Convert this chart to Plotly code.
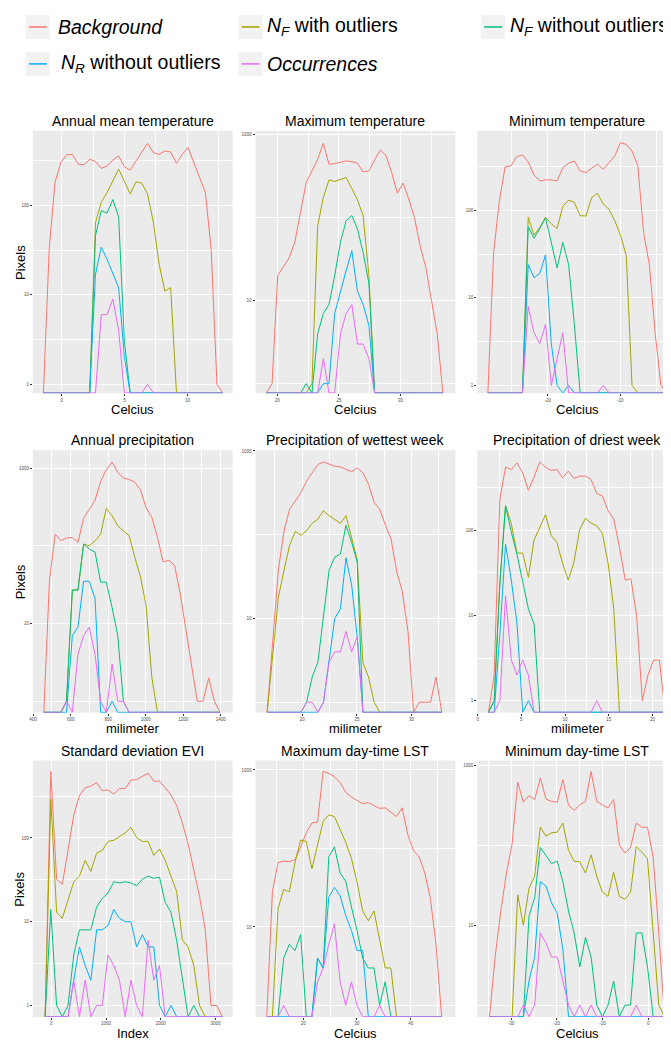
import plotly.graph_objects as go
from plotly.subplots import make_subplots

# ---------------- data ----------------
series_names = ["Background", "NF with outliers", "NF without outliers",
                "NR without outliers", "Occurrences"]
series_colors = ["#F8766D", "#A3A500", "#00BF7D", "#00B0F6", "#E76BF3"]

panel_titles = ["Annual mean temperature", "Maximum temperature", "Minimum temperature",
                "Annual precipitation", "Precipitation of wettest week",
                "Precipitation of driest week", "Standard deviation EVI",
                "Maximum day-time LST", "Minimum day-time LST"]
x_titles = ["Celcius", "Celcius", "Celcius", "milimeter", "milimeter", "milimeter",
            "Index", "Celcius", "Celcius"]
y_title = "Pixels"

# 1 Annual mean temperature
amt_x = [-1.45, -0.99, -0.53, -0.07, 0.39, 0.85, 1.31, 1.77, 2.23, 2.69, 3.15, 3.61, 4.07, 4.53, 4.99, 5.45,
         5.91, 6.37, 6.83, 7.29, 7.75, 8.21, 8.67, 9.13, 9.59, 10.05, 10.51, 10.97, 11.43, 11.89, 12.35, 12.81]
amt_bg = [0, 33, 180, 300, 366, 371, 288, 283, 327, 308, 258, 276, 321, 356, 269, 247,
          313, 394, 493, 388, 371, 405, 394, 295, 371, 441, 300, 205, 139, 32, 1, 0]
amt_nfo = [0, 0, 0, 0, 0, 0, 0, 0, 0, 64, 108, 139, 188, 254, 185, 134,
           183, 177, 134, 65, 22, 11, 12, 0, 0, 0, 0, 0, 0, 0, 0, 0]
amt_nf = [0, 0, 0, 0, 0, 0, 0, 0, 0, 46, 87, 82, 116, 74, 3, 0,
          0, 0, 0, 0, 0, 0, 0, 0, 0, 0, 0, 0, 0, 0, 0, 0]
amt_nr = [0, 0, 0, 0, 0, 0, 0, 0, 0, 17, 34, 25, 17, 12, 2, 0,
          0, 0, 0, 0, 0, 0, 0, 0, 0, 0, 0, 0, 0, 0, 0, 0]
amt_occ = [0, 0, 0, 0, 0, 0, 0, 0, 0, 0, 6, 6, 9, 4, 0, 0,
           0, 0, 1, 0, 0, 0, 0, 0, 0, 0, 0, 0, 0, 0, 0, 0]

# 2 Maximum temperature
mxt_x = [19.11, 19.57, 20.03, 20.50, 20.96, 21.42, 21.88, 22.34, 22.81, 23.27, 23.73, 24.19, 24.65, 25.12, 25.58, 26.04,
         26.50, 26.96, 27.43, 27.89, 28.35, 28.81, 29.27, 29.74, 30.20, 30.66, 31.12, 31.58, 32.05, 32.51, 32.97, 33.43]
mxt_bg = [0, 1, 20, 26, 33, 51, 116, 265, 366, 506, 787, 441, 449, 461, 483, 474,
          453, 356, 366, 497, 655, 565, 350, 198, 261, 168, 101, 46, 25, 10, 4, 0]
mxt_nfo = [0, 0, 0, 0, 0, 0, 0, 0, 1, 80, 175, 286, 273, 286, 305, 225,
           164, 106, 20, 0, 0, 0, 0, 0, 0, 0, 0, 0, 0, 0, 0, 0]
mxt_nf = [0, 0, 0, 0, 0, 0, 0, 1, 0, 4, 7, 9, 20, 51, 92, 106,
          73, 38, 16, 0, 0, 0, 0, 0, 0, 0, 0, 0, 0, 0, 0, 0]
mxt_nr = [0, 0, 0, 0, 0, 0, 0, 0, 0, 0, 1, 1, 7, 13, 23, 40,
          13, 9, 5, 0, 0, 0, 0, 0, 0, 0, 0, 0, 0, 0, 0, 0]
mxt_occ = [0, 0, 0, 0, 0, 0, 0, 0, 0, 0, 2, 0, 0, 4, 7, 9,
           3, 3, 2, 0, 0, 0, 0, 0, 0, 0, 0, 0, 0, 0, 0, 0]

# 3 Minimum temperature
mnt_x = [-28.26, -27.47, -26.67, -25.88, -25.08, -24.29, -23.49, -22.70, -21.90, -21.11, -20.31, -19.52, -18.72,
         -17.93, -17.13, -16.34, -15.54, -14.75, -13.95, -13.16, -12.36, -11.57, -10.77, -9.98, -9.18, -8.39,
         -7.59, -6.80, -6.00, -5.21, -4.41, -3.62]
mnt_bg = [0, 33, 129, 314, 322, 411, 430, 357, 252, 217, 223, 223, 217, 308, 345, 366,
          282, 270, 303, 336, 295, 351, 418, 593, 567, 476, 322, 56, 24, 4, 1, 0]
mnt_nfo = [0, 0, 0, 0, 0, 0, 0, 83, 52, 64, 83, 70, 62, 111, 131, 123,
           87, 86, 140, 157, 118, 103, 76, 52, 30, 1, 0, 0, 0, 0, 0, 0]
mnt_nf = [0, 0, 0, 0, 0, 0, 0, 65, 48, 62, 82, 43, 22, 43, 24, 5,
          0, 0, 0, 0, 0, 0, 0, 0, 0, 0, 0, 0, 0, 0, 0, 0]
mnt_nr = [0, 0, 0, 0, 0, 0, 0, 24, 17, 19, 31, 3, 1, 0, 1, 0,
          0, 0, 0, 0, 0, 0, 0, 0, 0, 0, 0, 0, 0, 0, 0, 0]
mnt_occ = [0, 0, 0, 0, 0, 0, 0, 8, 4, 3, 5, 1, 2, 4, 0, 0,
           0, 0, 0, 0, 1, 0, 0, 0, 0, 0, 0, 0, 0, 0, 0, 0]

# 4 Annual precipitation
ap_x = [457, 487, 518, 548, 578, 609, 639, 669, 699, 730, 760, 790, 821, 851, 881, 912,
        942, 972, 1002, 1033, 1063, 1093, 1124, 1154, 1184, 1215, 1245, 1275, 1305, 1336, 1366, 1396]
ap_bg = [0, 36, 141, 116, 126, 128, 111, 226, 294, 383, 677, 952, 1192, 881, 746, 710,
         657, 529, 309, 231, 128, 62, 65, 56, 24, 8, 3, 1, 1, 2, 1, 0]
ap_nfo = [0, 0, 0, 0, 1, 27, 27, 105, 100, 116, 141, 303, 243, 181, 156, 135,
          71, 40, 17, 2, 0, 0, 0, 0, 0, 0, 0, 0, 0, 0, 0, 0]
ap_nf = [0, 0, 0, 0, 1, 27, 27, 105, 91, 83, 34, 34, 16, 7, 1, 0,
         0, 0, 0, 0, 0, 0, 0, 0, 0, 0, 0, 0, 0, 0, 0, 0]
ap_nr = [0, 0, 0, 0, 0, 7, 9, 35, 35, 21, 0, 0, 1, 0, 0, 0,
         0, 0, 0, 0, 0, 0, 0, 0, 0, 0, 0, 0, 0, 0, 0, 0]
ap_occ = [0, 0, 0, 0, 1, 0, 4, 7, 9, 4, 1, 0, 3, 1, 1, 0,
          0, 0, 0, 0, 0, 0, 0, 0, 0, 0, 0, 0, 0, 0, 0, 0]

# 5 Precipitation of wettest week
pww_x = [16.79, 17.31, 17.82, 18.34, 18.85, 19.37, 19.88, 20.40, 20.91, 21.43, 21.94, 22.46, 22.97, 23.49, 24.00, 24.52,
         25.03, 25.55, 26.06, 26.58, 27.09, 27.61, 28.12, 28.64, 29.15, 29.67, 30.18, 30.70, 31.21, 31.73, 32.24, 32.76]
pww_bg = [0, 6, 38, 112, 202, 254, 319, 438, 549, 689, 741, 701, 658, 646, 601, 564,
          629, 549, 400, 243, 202, 129, 89, 36, 21, 7, 0, 1, 1, 1, 2, 0]
pww_nfo = [0, 4, 18, 38, 75, 110, 98, 112, 137, 154, 193, 169, 154, 137, 169, 93,
           50, 3, 2, 1, 0, 0, 0, 0, 0, 0, 0, 0, 0, 0, 0, 0]
pww_nf = [0, 0, 0, 0, 0, 0, 0, 1, 2, 3, 10, 38, 54, 59, 129, 81,
          47, 0, 0, 0, 0, 0, 0, 0, 0, 0, 0, 0, 0, 0, 0, 0]
pww_nr = [0, 0, 0, 0, 0, 0, 0, 0, 0, 0, 1, 3, 10, 13, 53, 25,
          6, 0, 0, 0, 0, 0, 0, 0, 0, 0, 0, 0, 0, 0, 0, 0]
pww_occ = [0, 0, 0, 0, 0, 0, 0, 1, 1, 0, 1, 3, 4, 4, 7, 4,
           6, 0, 0, 0, 0, 0, 0, 0, 0, 0, 0, 0, 0, 0, 0, 0]

# 6 Precipitation of driest week
pdw_x = [1.24, 1.89, 2.54, 3.19, 3.85, 4.50, 5.15, 5.80, 6.45, 7.10, 7.76, 8.41, 9.06, 9.71, 10.36, 11.01,
         11.66, 12.32, 12.97, 13.62, 14.27, 14.92, 15.57, 16.22, 16.88, 17.53, 18.18, 18.83, 19.48, 20.13, 20.79, 21.44]
pdw_bg = [0, 2, 231, 550, 516, 617, 472, 294, 421, 634, 550, 503, 516, 413, 494, 405,
          432, 432, 395, 269, 253, 169, 135, 63, 26, 27, 10, 1, 2, 3, 3, 0]
pdw_nfo = [0, 1, 24, 194, 119, 54, 54, 28, 77, 110, 152, 87, 72, 41, 26, 42,
           101, 138, 121, 113, 91, 41, 12, 0, 0, 0, 0, 0, 0, 0, 0, 0]
pdw_nf = [0, 1, 24, 194, 95, 52, 25, 12, 8, 0, 0, 0, 0, 0, 0, 0,
          0, 0, 0, 0, 0, 0, 0, 0, 0, 0, 0, 0, 0, 0, 0, 0]
pdw_nr = [0, 0, 6, 69, 26, 8, 0, 1, 0, 0, 0, 0, 0, 0, 0, 0,
          0, 0, 0, 0, 0, 0, 0, 0, 0, 0, 0, 0, 0, 0, 0, 0]
pdw_occ = [0, 0, 1, 17, 3, 2, 3, 2, 0, 0, 0, 0, 0, 0, 0, 0,
           0, 0, 0, 1, 0, 0, 0, 0, 0, 0, 0, 0, 0, 0, 0, 0]

# 7 Standard deviation EVI
evi_x = [-112, -8, 97, 201, 306, 410, 514, 619, 723, 828, 932, 1036, 1141, 1245, 1350, 1454,
         1558, 1663, 1767, 1872, 1976, 2080, 2185, 2289, 2394, 2498, 2602, 2707, 2811, 2916, 3020, 3124]
evi_bg = [0, 622, 32, 28, 71, 188, 320, 399, 418, 457, 366, 376, 334, 389, 389, 490,
          498, 544, 595, 477, 477, 399, 326, 245, 150, 85, 41, 20, 8, 1, 1, 0]
evi_nfo = [0, 292, 13, 11, 18, 30, 35, 54, 40, 66, 71, 91, 94, 103, 115, 134,
           101, 91, 91, 62, 74, 54, 35, 23, 6, 5, 3, 1, 0, 0, 0, 0]
evi_nf = [0, 14, 1, 0, 1, 4, 8, 8, 8, 15, 19, 22, 30, 29, 30, 29,
          27, 32, 35, 33, 34, 17, 13, 6, 2, 0, 1, 0, 0, 0, 0, 0]
evi_nr = [0, 0, 0, 0, 0, 2, 5, 3, 2, 8, 8, 9, 14, 11, 10, 10,
          5, 7, 5, 5, 1, 0, 1, 0, 0, 0, 0, 0, 0, 0, 0, 0]
evi_occ = [0, 0, 0, 0, 0, 2, 0, 2, 0, 1, 1, 4, 3, 2, 0, 2,
           1, 0, 6, 2, 3, 0, 0, 0, 0, 0, 0, 0, 0, 0, 0, 0]

# 8 Maximum day-time LST
mxl_x = [13.20, 14.25, 15.30, 16.35, 17.40, 18.46, 19.51, 20.56, 21.61, 22.66, 23.71, 24.76, 25.81, 26.86, 27.91, 28.97,
         30.02, 31.07, 32.12, 33.17, 34.22, 35.27, 36.32, 37.37, 38.42, 39.48, 40.53, 41.58, 42.63, 43.68, 44.73, 45.78]
mxl_bg = [0, 28, 66, 69, 68, 72, 104, 159, 211, 217, 964, 902, 820, 692, 520, 451,
          410, 373, 384, 356, 324, 330, 289, 255, 330, 149, 94, 78, 49, 23, 6, 0]
mxl_nfo = [0, 0, 17, 30, 28, 66, 128, 123, 55, 114, 222, 268, 255, 175, 120, 75,
           37, 16, 12, 16, 7, 3, 3, 0, 0, 0, 0, 0, 0, 0, 0, 0]
mxl_nf = [0, 0, 0, 4, 6, 5, 8, 0, 0, 4, 3, 78, 105, 49, 38, 18,
          9, 4, 3, 3, 1, 2, 0, 0, 0, 0, 0, 0, 0, 0, 0, 0]
mxl_nr = [0, 0, 0, 0, 0, 0, 0, 0, 0, 4, 3, 24, 32, 25, 14, 9,
          5, 5, 0, 0, 0, 0, 0, 0, 0, 0, 0, 0, 0, 0, 0, 0]
mxl_occ = [0, 0, 0, 1, 0, 0, 0, 0, 0, 2, 3, 6, 11, 2, 1, 2,
           1, 0, 0, 0, 1, 0, 0, 0, 0, 0, 0, 0, 0, 0, 0, 0]

# 9 Minimum day-time LST
mnl_x = [-34.70, -33.47, -32.23, -31.00, -29.76, -28.53, -27.30, -26.06, -24.83, -23.59, -22.36, -21.13, -19.89,
         -18.66, -17.42, -16.19, -14.96, -13.72, -12.49, -11.25, -10.02, -8.79, -7.55, -6.32, -5.08, -3.85,
         -2.62, -1.38, -0.15, 1.09, 2.32, 3.55]
mnl_bg = [0, 4, 15, 45, 104, 617, 346, 417, 373, 695, 380, 353, 346, 664, 316, 274,
          321, 353, 838, 353, 321, 293, 373, 101, 80, 94, 189, 168, 168, 71, 8, 0]
mnl_nfo = [0, 0, 0, 0, 0, 24, 10, 29, 41, 168, 130, 143, 146, 189, 86, 63,
           62, 45, 76, 41, 26, 23, 46, 23, 21, 26, 96, 82, 68, 8, 1, 0]
mnl_nf = [0, 0, 0, 0, 0, 0, 0, 13, 22, 94, 75, 59, 63, 35, 15, 8,
          3, 7, 4, 1, 0, 1, 2, 0, 1, 1, 8, 8, 3, 0, 0, 0]
mnl_nr = [0, 0, 0, 0, 0, 0, 0, 2, 4, 35, 31, 19, 14, 5, 0, 0,
          0, 0, 0, 0, 0, 0, 0, 0, 0, 0, 0, 0, 0, 0, 0, 0]
mnl_occ = [0, 0, 0, 0, 0, 0, 1, 0, 1, 8, 6, 4, 4, 2, 1, 0,
           1, 0, 1, 0, 0, 0, 0, 0, 0, 0, 1, 0, 0, 0, 0, 0]

# ---------------- panel configuration (axes) ----------------
panels = [
    dict(x=amt_x, s=[amt_bg, amt_nfo, amt_nf, amt_nr, amt_occ], xr=[-2.29, 13.60], xt=[0, 5, 10], xm=[2.5, 7.5, 12.5],
         yr=[-0.10, 2.833], yt=[1, 10, 100], ym=[3.162, 31.62, 316.2]),
    dict(x=mxt_x, s=[mxt_bg, mxt_nfo, mxt_nf, mxt_nr, mxt_occ], xr=[18.23, 34.44], xt=[20, 25, 30], xm=[22.5, 27.5, 32.5],
         yr=[-0.116, 3.048], yt=[10, 1000], ym=[1, 100]),
    dict(x=mnt_x, s=[mnt_bg, mnt_nfo, mnt_nf, mnt_nr, mnt_occ], xr=[-29.73, -2.19], xt=[-20, -10], xm=[-25, -15, -5],
         yr=[-0.09, 2.909], yt=[1, 10, 100], ym=[3.162, 31.62, 316.2]),
    dict(x=ap_x, s=[ap_bg, ap_nfo, ap_nf, ap_nr, ap_occ], xr=[398.7, 1463.6], xt=[400, 600, 800, 1000, 1200, 1400],
         xm=[500, 700, 900, 1100, 1300], yr=[-0.146, 3.23], yt=[10, 1000], ym=[1, 100]),
    dict(x=pww_x, s=[pww_bg, pww_nfo, pww_nf, pww_nr, pww_occ], xr=[15.73, 34.0], xt=[20, 25, 30],
         xm=[17.5, 22.5, 27.5, 32.5], yr=[-0.124, 3.01], yt=[10, 1000], ym=[1, 100]),
    dict(x=pdw_x, s=[pdw_bg, pdw_nfo, pdw_nf, pdw_nr, pdw_occ], xr=[-0.05, 22.8], xt=[0, 5, 10, 15, 20],
         xm=[2.5, 7.5, 12.5, 17.5, 22.5], yr=[-0.14, 2.94], yt=[1, 10, 100], ym=[3.162, 31.62, 316.2]),
    dict(x=evi_x, s=[evi_bg, evi_nfo, evi_nf, evi_nr, evi_occ], xr=[-335.8, 3312], xt=[0, 1000, 2000, 3000],
         xm=[500, 1500, 2500], yr=[-0.139, 2.925], yt=[1, 10, 100], ym=[3.162, 31.62, 316.2]),
    dict(x=mxl_x, s=[mxl_bg, mxl_nfo, mxl_nf, mxl_nr, mxl_occ], xr=[11.11, 48.33], xt=[20, 30, 40],
         xm=[15, 25, 35, 45], yr=[-0.148, 3.12], yt=[10, 1000], ym=[1, 100]),
    dict(x=mnl_x, s=[mnl_bg, mnl_nfo, mnl_nf, mnl_nr, mnl_occ], xr=[-37.39, 6.30], xt=[-30, -20, -10, 0],
         xm=[-35, -25, -15, -5, 5], yr=[-0.15, 3.06], yt=[10, 1000], ym=[1, 100]),
]

W, H = 671, 1042
col_px = [(21, 222), (245, 446), (468, 669)]
row_px = [(121, 384), (441, 704), (752, 1009)]
title_y = [111, 431, 742]
xtitle_y = [400, 720, 1025]

FONT = "Liberation Sans, Arial, Helvetica, sans-serif"

fig = make_subplots(rows=3, cols=3)

for i, p in enumerate(panels):
    r, c = i // 3, i % 3
    floor = 10 ** (p["yr"][0] + 0.004)
    for name, color, ys in zip(series_names, series_colors, p["s"]):
        fig.add_trace(go.Scatter(
            x=p["x"], y=[v if v > 0 else floor for v in ys], mode="lines",
            line=dict(color=color, width=1), name=name, showlegend=False,
            hoverinfo="skip"), row=r + 1, col=c + 1)
    (l, rr), (t, b) = col_px[c], row_px[r]
    fig.update_xaxes(
        domain=[l / W, rr / W], range=p["xr"], tickmode="array", tickvals=p["xt"],
        ticktext=[str(v) for v in p["xt"]], showgrid=True, gridcolor="white", gridwidth=1,
        zeroline=False, showline=False, ticks="outside", ticklen=2, tickwidth=0.6,
        tickcolor="#333333", tickfont=dict(size=4.5, color="#4D4D4D", family=FONT),
        minor=dict(tickmode="array", tickvals=p["xm"], showgrid=True, gridcolor="white",
                   gridwidth=0.5, ticks=""),
        row=r + 1, col=c + 1)
    fig.update_yaxes(
        type="log", domain=[1 - b / H, 1 - t / H], range=p["yr"], tickmode="array",
        tickvals=p["yt"], ticktext=[str(v) for v in p["yt"]], showgrid=True, gridcolor="white",
        gridwidth=1, zeroline=False, showline=False, ticks="outside", ticklen=2, tickwidth=0.6,
        tickcolor="#333333", tickfont=dict(size=4.5, color="#4D4D4D", family=FONT),
        minor=dict(tickmode="array", tickvals=p["ym"], showgrid=True, gridcolor="white",
                   gridwidth=0.5, ticks=""),
        row=r + 1, col=c + 1)

annotations = []
for i, p in enumerate(panels):
    r, c = i // 3, i % 3
    (l, rr), (t, b) = col_px[c], row_px[r]
    cx = (l + rr) / 2 / W
    annotations.append(dict(x=cx, y=1 - title_y[r] / H, xref="paper", yref="paper",
                            text=panel_titles[i], showarrow=False, xanchor="center", yanchor="middle",
                            font=dict(size=14, color="black", family=FONT)))
    annotations.append(dict(x=cx, y=1 - xtitle_y[r] / H, xref="paper", yref="paper",
                            text=x_titles[i], showarrow=False, xanchor="center", yanchor="middle",
                            font=dict(size=13, color="black", family=FONT)))
for r in range(3):
    t, b = row_px[r]
    annotations.append(dict(x=8 / W, y=1 - (t + b) / 2 / H, xref="paper", yref="paper",
                            text=y_title, showarrow=False, textangle=-90, xanchor="center",
                            yanchor="middle", font=dict(size=13, color="black", family=FONT)))

# legend (drawn manually to mimic ggplot's top legend)
legend_labels = ["<i>Background</i>", "<i>N</i><sub><i>F</i></sub> with outliers",
                 "<i>N</i><sub><i>F</i></sub> without outliers",
                 "<i>N</i><sub><i>R</i></sub> without outliers", "<i>Occurrences</i>"]
legend_key_px = [(14, 17), (228, 17), (472, 17), (14, 54), (228, 54)]
legend_text_x = [44, 255, 499, 47, 255]
shapes = []
for (kx, ky), tx, lab, col in zip(legend_key_px, legend_text_x, legend_labels, series_colors):
    shapes.append(dict(type="rect", xref="paper", yref="paper",
                       x0=kx / W, x1=(kx + 24) / W, y0=1 - (ky + 12) / H, y1=1 - (ky - 12) / H,
                       fillcolor="#F2F2F2", line=dict(width=0), layer="below"))
    shapes.append(dict(type="line", xref="paper", yref="paper",
                       x0=(kx + 3) / W, x1=(kx + 21) / W, y0=1 - ky / H, y1=1 - ky / H,
                       line=dict(color=col, width=1.5)))
    annotations.append(dict(x=tx / W, y=1 - ky / H, xref="paper", yref="paper", text=lab,
                            showarrow=False, xanchor="left", yanchor="middle",
                            font=dict(size=19.5, color="black", family=FONT)))

fig.update_layout(
    width=W, height=H, margin=dict(l=0, r=0, t=0, b=0),
    paper_bgcolor="white", plot_bgcolor="#EBEBEB",
    showlegend=False, annotations=annotations, shapes=shapes,
    font=dict(family=FONT),
)

fig.write_html("out.html")
